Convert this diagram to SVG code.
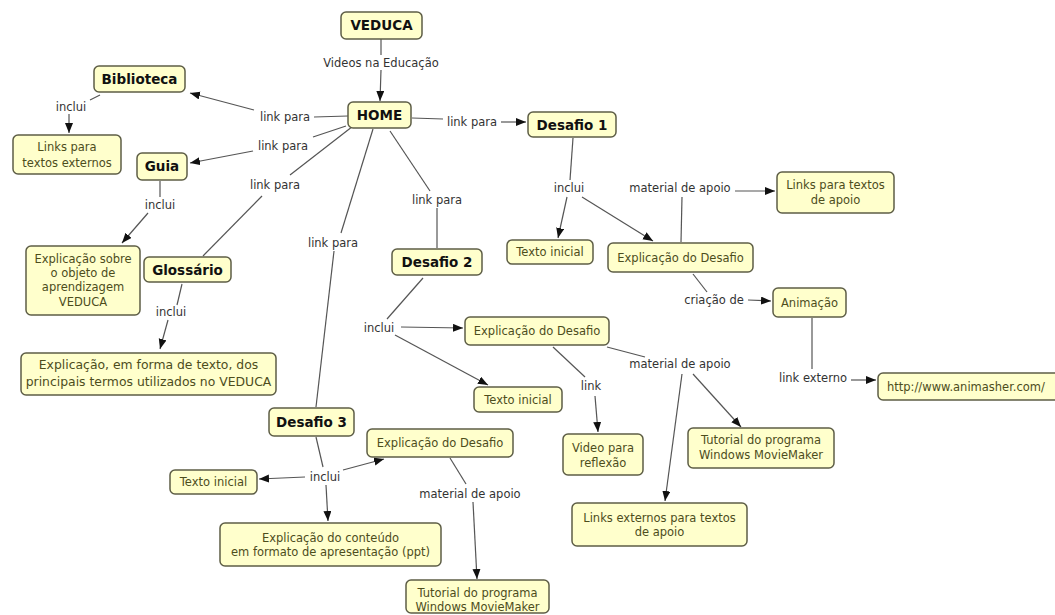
<svg xmlns="http://www.w3.org/2000/svg" width="1055" height="615" viewBox="0 0 1055 615">
<style>
.n rect{fill:#ffffcc;stroke:#5e5e46;stroke-width:1.5}
.b{font-family:"DejaVu Sans",Verdana,sans-serif;font-weight:bold;font-size:13.5px;fill:#111;text-anchor:middle}
.t{font-family:"DejaVu Sans",Verdana,sans-serif;font-size:11.5px;fill:#4d4d1c;text-anchor:middle}
.l{font-family:"DejaVu Sans",Verdana,sans-serif;font-size:11.5px;fill:#333;text-anchor:middle}
#connectors line{stroke:#555;stroke-width:1.2;fill:none}
#connectors line.a{marker-end:url(#ah)}
</style>
<defs>
<marker id="ah" markerUnits="userSpaceOnUse" markerWidth="11" markerHeight="9" refX="10" refY="4" orient="auto">
<path d="M0,0 L10,4 L0,8 z" fill="#111"/>
</marker>
</defs>
<rect width="1055" height="615" fill="#fff"/>
<g id="connectors">
<line x1="381" y1="39" x2="381" y2="55"/>
<line class="a" x1="381" y1="70" x2="380" y2="101"/>
<line x1="348" y1="116" x2="314" y2="117"/>
<line class="a" x1="254" y1="110" x2="190" y2="93"/>
<line x1="100" y1="95" x2="90" y2="100"/>
<line class="a" x1="69" y1="114" x2="69" y2="133"/>
<line x1="346" y1="126" x2="313" y2="137"/>
<line class="a" x1="253" y1="151" x2="190" y2="163"/>
<line x1="160" y1="181" x2="160" y2="197"/>
<line class="a" x1="148" y1="213" x2="122" y2="243"/>
<line x1="357" y1="123" x2="290" y2="175"/>
<line x1="262" y1="196" x2="203" y2="256"/>
<line x1="182" y1="284" x2="177" y2="305"/>
<line class="a" x1="168" y1="320" x2="160" y2="349"/>
<line x1="373" y1="129" x2="341" y2="233"/>
<line x1="334" y1="251" x2="316" y2="407"/>
<line x1="390" y1="131" x2="430" y2="191"/>
<line x1="437" y1="208" x2="437" y2="248"/>
<line x1="412" y1="118" x2="443" y2="119"/>
<line class="a" x1="501" y1="122" x2="526" y2="122"/>
<line x1="573" y1="138" x2="570" y2="180"/>
<line class="a" x1="567" y1="197" x2="558" y2="238"/>
<line class="a" x1="582" y1="197" x2="653" y2="241"/>
<line x1="681" y1="242" x2="682" y2="197"/>
<line class="a" x1="735" y1="191" x2="775" y2="191"/>
<line x1="693" y1="274" x2="707" y2="292"/>
<line class="a" x1="748" y1="300" x2="771" y2="301"/>
<line x1="812" y1="318" x2="812" y2="369"/>
<line class="a" x1="851" y1="380" x2="876" y2="380"/>
<line x1="423" y1="278" x2="387" y2="319"/>
<line class="a" x1="401" y1="327" x2="463" y2="328"/>
<line class="a" x1="395" y1="335" x2="488" y2="385"/>
<line x1="553" y1="347" x2="585" y2="377"/>
<line class="a" x1="595" y1="396" x2="598" y2="432"/>
<line x1="607" y1="347" x2="645" y2="357"/>
<line class="a" x1="693" y1="374" x2="741" y2="427"/>
<line class="a" x1="682" y1="374" x2="665" y2="501"/>
<line x1="316" y1="437" x2="323" y2="467"/>
<line class="a" x1="305" y1="477" x2="259" y2="479"/>
<line class="a" x1="326" y1="485" x2="328" y2="521"/>
<line class="a" x1="343" y1="470" x2="384" y2="459"/>
<line x1="450" y1="458" x2="466" y2="484"/>
<line class="a" x1="473" y1="502" x2="477" y2="579"/>
</g>
<g id="labels">
<text class="l" x="381" y="67">Videos na Educação</text>
<text class="l" x="285" y="121">link para</text>
<text class="l" x="71" y="111">inclui</text>
<text class="l" x="283" y="150">link para</text>
<text class="l" x="160" y="209">inclui</text>
<text class="l" x="275" y="189">link para</text>
<text class="l" x="171" y="316">inclui</text>
<text class="l" x="333" y="247">link para</text>
<text class="l" x="437" y="204">link para</text>
<text class="l" x="472" y="126">link para</text>
<text class="l" x="569" y="192">inclui</text>
<text class="l" x="680" y="192">material de apoio</text>
<text class="l" x="714" y="304">criação de</text>
<text class="l" x="813" y="382">link externo</text>
<text class="l" x="379" y="332">inclui</text>
<text class="l" x="591" y="390">link</text>
<text class="l" x="680" y="368">material de apoio</text>
<text class="l" x="325" y="481">inclui</text>
<text class="l" x="470" y="498">material de apoio</text>
</g>
<g id="veduca" class="n"><rect x="341" y="12" width="81" height="27" rx="5"/><text class="b" x="381.5" y="30">VEDUCA</text></g>
<g id="home" class="n"><rect x="348" y="102" width="63" height="26" rx="5"/><text class="b" x="379.5" y="120">HOME</text></g>
<g id="desafio1" class="n"><rect x="528" y="112" width="88" height="25" rx="5"/><text class="b" x="572" y="129.5">Desafio 1</text></g>
<g id="biblioteca" class="n"><rect x="94" y="66" width="91" height="26" rx="5"/><text class="b" x="139.5" y="84">Biblioteca</text></g>
<g id="links-externos" class="n"><rect x="13" y="135" width="108" height="39" rx="5"/><text class="t" x="67" y="151">Links para</text><text class="t" x="67" y="167">textos externos</text></g>
<g id="guia" class="n"><rect x="137" y="153" width="50" height="27" rx="5"/><text class="b" x="162" y="171">Guia</text></g>
<g id="explicacao-objeto" class="n"><rect x="26" y="246" width="114" height="69" rx="5"/><text class="t" x="83" y="263">Explicação sobre</text><text class="t" x="83" y="277">o objeto de</text><text class="t" x="83" y="291">aprendizagem</text><text class="t" x="83" y="306">VEDUCA</text></g>
<g id="glossario" class="n"><rect x="144" y="257" width="87" height="25" rx="5"/><text class="b" x="187.5" y="274.5">Glossário</text></g>
<g id="explicacao-termos" class="n"><rect x="21" y="353" width="255" height="42" rx="5"/><text class="t" x="148.5" y="369" style="font-size:12.4px">Explicação, em forma de texto, dos</text><text class="t" x="148.5" y="386" style="font-size:12.4px">principais termos utilizados no VEDUCA</text></g>
<g id="desafio2" class="n"><rect x="392" y="249" width="90" height="26" rx="5"/><text class="b" x="437" y="267">Desafio 2</text></g>
<g id="texto-inicial-1" class="n"><rect x="507" y="240" width="86" height="24" rx="5"/><text class="t" x="550" y="256">Texto inicial</text></g>
<g id="explicacao-desafio-1" class="n"><rect x="608" y="243" width="145" height="29" rx="5"/><text class="t" x="680.5" y="261.5">Explicação do Desafio</text></g>
<g id="links-textos-apoio" class="n"><rect x="777" y="172" width="117" height="41" rx="5"/><text class="t" x="835.5" y="189">Links para textos</text><text class="t" x="835.5" y="204">de apoio</text></g>
<g id="animacao" class="n"><rect x="773" y="288" width="73" height="29" rx="5"/><text class="t" x="809.5" y="306.5">Animação</text></g>
<g id="animasher" class="n"><rect x="878" y="373" width="190" height="27" rx="5"/><text class="t" x="887" y="391" style="text-anchor:start">http://www.animasher.com/</text></g>
<g id="explicacao-desafio-2" class="n"><rect x="465" y="317" width="144" height="28" rx="5"/><text class="t" x="537" y="335">Explicação do Desafio</text></g>
<g id="texto-inicial-2" class="n"><rect x="474" y="387" width="88" height="25" rx="5"/><text class="t" x="518" y="403.5">Texto inicial</text></g>
<g id="video-reflexao" class="n"><rect x="563" y="434" width="80" height="41" rx="5"/><text class="t" x="603" y="452">Video para</text><text class="t" x="603" y="467">reflexão</text></g>
<g id="tutorial-2" class="n"><rect x="688" y="428" width="146" height="40" rx="5"/><text class="t" x="761" y="444">Tutorial do programa</text><text class="t" x="761" y="459">Windows MovieMaker</text></g>
<g id="links-externos-apoio" class="n"><rect x="572" y="503" width="175" height="43" rx="5"/><text class="t" x="659.5" y="522">Links externos para textos</text><text class="t" x="659.5" y="536">de apoio</text></g>
<g id="desafio3" class="n"><rect x="269" y="408" width="85" height="28" rx="5"/><text class="b" x="311.5" y="427">Desafio 3</text></g>
<g id="texto-inicial-3" class="n"><rect x="170" y="470" width="87" height="24" rx="5"/><text class="t" x="213.5" y="486">Texto inicial</text></g>
<g id="explicacao-desafio-3" class="n"><rect x="367" y="429" width="146" height="28" rx="5"/><text class="t" x="440" y="447">Explicação do Desafio</text></g>
<g id="explicacao-conteudo" class="n"><rect x="220" y="523" width="221" height="43" rx="5"/><text class="t" x="330.5" y="542">Explicação do conteúdo</text><text class="t" x="330.5" y="556">em formato de apresentação (ppt)</text></g>
<g id="tutorial-3" class="n"><rect x="406" y="580" width="143" height="33" rx="5"/><text class="t" x="477.5" y="597">Tutorial do programa</text><text class="t" x="477.5" y="611">Windows MovieMaker</text></g>
</svg>
